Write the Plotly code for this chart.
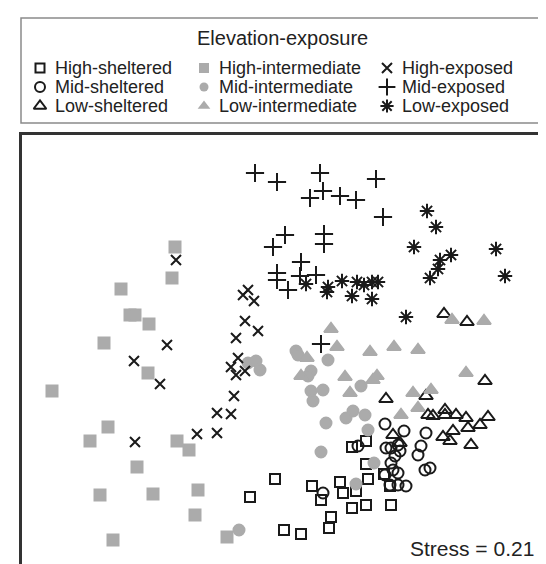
import plotly.graph_objects as go

# NMDS ordination scores (plot units; y grows downward)
hs_x = [267, 242, 276, 293, 304, 313, 323, 321, 332, 335, 348, 344, 358, 383, 360, 376, 382, 358, 344, 358]
hs_y = [471, 489, 522, 526, 478, 492, 509, 520, 474, 485, 483, 500, 497, 497, 471, 466, 478, 456, 439, 433]

ms_x = [350, 315, 377, 396, 418, 378, 383, 390, 392, 387, 383, 385, 390, 377, 382, 390, 398, 413, 410, 417, 422]
ms_y = [438, 485, 416, 423, 425, 440, 440, 437, 443, 448, 455, 462, 465, 467, 477, 477, 478, 438, 447, 462, 460]

ls_x = [436, 459, 477, 378, 418, 420, 425, 437, 437, 448, 458, 480, 472, 460, 445, 435, 442, 463, 385, 392]
ls_y = [306, 314, 373, 391, 388, 407, 408, 402, 407, 407, 410, 409, 417, 420, 423, 429, 433, 437, 427, 435]

hi_x = [167, 164, 113, 122, 127, 141, 96, 140, 44, 100, 82, 169, 181, 129, 92, 145, 190, 187, 219, 105]
hi_y = [239, 270, 281, 307, 307, 316, 335, 365, 383, 419, 433, 433, 442, 459, 487, 486, 482, 507, 529, 532]

mi_x = [231, 240, 248, 252, 288, 290, 303, 300, 320, 303, 315, 305, 353, 345, 338, 357, 318, 360, 313, 366, 348]
mi_y = [522, 355, 353, 362, 343, 347, 363, 368, 352, 383, 382, 393, 378, 403, 410, 407, 415, 422, 444, 455, 476]

li_x = [444, 476, 323, 329, 362, 386, 410, 299, 293, 337, 365, 369, 458, 342, 405, 423, 410, 393]
li_y = [312, 313, 321, 339, 344, 339, 342, 350, 368, 369, 372, 368, 365, 385, 385, 382, 400, 407]

he_x = [168, 159, 240, 235, 246, 237, 250, 228, 126, 230, 223, 228, 237, 152, 226, 209, 223, 127, 189, 209]
he_y = [252, 337, 282, 287, 293, 313, 323, 330, 353, 350, 359, 367, 363, 376, 388, 405, 406, 434, 426, 425]

me_x = [247, 269, 312, 368, 302, 315, 332, 348, 375, 265, 277, 316, 316, 269, 269, 293, 292, 308, 280, 313]
me_y = [165, 174, 165, 171, 190, 183, 188, 192, 209, 239, 227, 226, 236, 265, 272, 254, 268, 267, 282, 336]

le_x = [419, 428, 406, 488, 443, 432, 430, 422, 497, 298, 320, 319, 334, 349, 344, 356, 364, 370, 364, 398]
le_y = [203, 219, 239, 241, 247, 252, 261, 270, 268, 276, 279, 284, 273, 274, 288, 277, 274, 274, 291, 309]

legend_title = "Elevation-exposure"
stress_label = "Stress = 0.21"

BLACK = "#1a1a1a"
GRAY = "#ababab"

# name, x, y, symbol, colour, marker size, legend symbol size
series = [
    ("High-sheltered", hs_x, hs_y, "square-open", BLACK, 10, 9),
    ("Mid-sheltered", ms_x, ms_y, "circle-open", BLACK, 11, 10),
    ("Low-sheltered", ls_x, ls_y, "triangle-up-open", BLACK, 12, 11),
    ("High-intermediate", hi_x, hi_y, "square", GRAY, 11, 10),
    ("Mid-intermediate", mi_x, mi_y, "circle", GRAY, 11, 9),
    ("Low-intermediate", li_x, li_y, "triangle-up", GRAY, 12, 11),
    ("High-exposed", he_x, he_y, "x-thin-open", BLACK, 10, 10),
    ("Mid-exposed", me_x, me_y, "cross-thin-open", BLACK, 13, 12),
    ("Low-exposed", le_x, le_y, "asterisk-open", BLACK, 12, 11),
]

W, H = 546, 564
PLOT_L, PLOT_T = 14, 127
FONT = "Liberation Sans, Arial, Helvetica, sans-serif"

# legend layout (figure pixels)
col_sym_x = [32, 196, 379]
row_y = [60, 79, 98]
title_y = 30

fig = go.Figure()
annotations = []
for i, (name, xs, ys, sym, col, sz, lsz) in enumerate(series):
    fig.add_trace(go.Scatter(
        x=xs, y=ys, mode="markers", name=name, showlegend=False,
        marker=dict(symbol=sym, size=sz, color=col,
                    line=dict(width=2, color=col)),
        xaxis="x", yaxis="y",
    ))
    c, r = divmod(i, 3)
    fig.add_trace(go.Scatter(
        x=[col_sym_x[c]], y=[row_y[r]], mode="markers", showlegend=False,
        hoverinfo="skip",
        marker=dict(symbol=sym, size=lsz, color=col,
                    line=dict(width=2 if "open" in sym else 0, color=col)),
        xaxis="x2", yaxis="y2",
    ))
    annotations.append(dict(
        text=name, x=col_sym_x[c] + 13, y=row_y[r], xref="x2", yref="y2",
        xanchor="left", yanchor="middle", showarrow=False,
        font=dict(size=18, family=FONT, color="#222"),
    ))

annotations.append(dict(
    text=legend_title, x=274, y=title_y, xref="x2", yref="y2",
    xanchor="center", yanchor="middle", showarrow=False,
    font=dict(size=20, family=FONT, color="#222"),
))
annotations.append(dict(
    text=stress_label, x=528, y=540, xref="x2", yref="y2",
    xanchor="right", yanchor="middle", showarrow=False,
    font=dict(size=21, family=FONT, color="#222"),
))

noax = dict(showgrid=False, zeroline=False, showticklabels=False, ticks="")
fig.update_layout(
    width=W, height=H,
    margin=dict(l=0, r=0, t=0, b=0),
    paper_bgcolor="white", plot_bgcolor="rgba(0,0,0,0)",
    font=dict(family=FONT, color="#222", size=18),
    showlegend=False,
    xaxis=dict(domain=[PLOT_L / W, 1], range=[PLOT_L, W], showline=True,
               linecolor="#333", linewidth=2.5, side="top", **noax),
    yaxis=dict(domain=[0, (H - PLOT_T) / H], range=[H, PLOT_T],
               showline=True, linecolor="#333", linewidth=2.5, side="left",
               **noax),
    xaxis2=dict(domain=[0, 1], range=[0, W], anchor="y2", overlaying=None,
                visible=False, **noax),
    yaxis2=dict(domain=[0, 1], range=[H, 0], anchor="x2", visible=False,
                **noax),
    shapes=[dict(type="rect", xref="paper", yref="paper",
                 x0=13 / W, x1=537 / W, y0=1 - 115 / H, y1=1 - 10 / H,
                 line=dict(color="#8a8a8a", width=1.5))],
    annotations=annotations,
)

fig.write_html("out.html")
